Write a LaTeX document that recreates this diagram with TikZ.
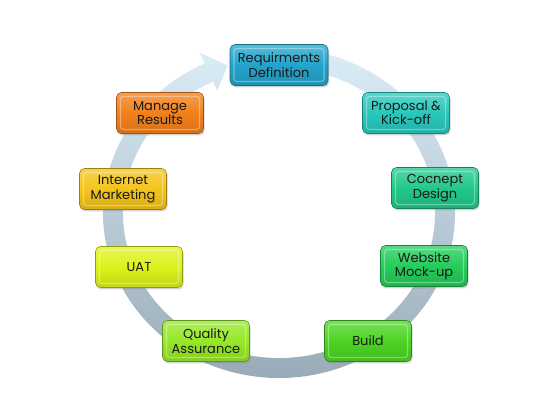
\documentclass[tikz,border=0pt]{standalone}
\usepackage{fontspec}
\newfontfamily\stagefont{Poppins}
\usepackage{tikz}
\usetikzlibrary{shadows, calc}
\definecolor{reqblue}{RGB}{34, 164, 204}
\definecolor{propteal}{RGB}{40, 200, 188}
\definecolor{conceptgreen}{RGB}{34, 200, 138}
\definecolor{webgreen}{RGB}{36, 204, 90}
\definecolor{buildgreen}{RGB}{76, 212, 36}
\definecolor{qalime}{RGB}{150, 232, 40}
\definecolor{uatyellow}{RGB}{222, 242, 26}
\definecolor{netgold}{RGB}{244, 196, 26}
\definecolor{manageorange}{RGB}{242, 128, 26}
\definecolor{ringtop}{RGB}{218, 236, 246}
\definecolor{ringbot}{RGB}{150, 168, 180}
\tikzset{
  stage/.style={rectangle, rounded corners=5pt, draw=#1!65!black, line width=0.6pt,
    top color=#1!75!white, bottom color=#1!88!black, middle color=#1,
    minimum width=87pt, minimum height=41pt, inner sep=2pt, align=center,
    font=\stagefont\fontsize{13}{14.5}\selectfont, text=black!90,
    drop shadow={opacity=0.35, shadow xshift=1pt, shadow yshift=-2pt},
    path picture={\draw[white, opacity=0.35, line width=1.2pt, rounded corners=3pt]
      ([shift={(4pt,-4pt)}]path picture bounding box.north west) rectangle
      ([shift={(-4pt,4pt)}]path picture bounding box.south east);}}
}

\begin{document}
\begin{tikzpicture}[x=1pt, y=1pt]
    \useasboundingbox (0,0) rectangle (560,420);
    \coordinate (ringc) at (279,207);
    \path[top color=ringtop, bottom color=ringbot]
      ([shift={(78:176pt and 165pt)}]ringc) arc[start angle=78, end angle=-245, x radius=176pt, y radius=165pt]
      -- ([shift={(115:188pt and 177pt)}]ringc)
      -- ([shift={(108:166pt and 155pt)}]ringc)
      -- ([shift={(115:146pt and 135pt)}]ringc)
      -- ([shift={(115:156pt and 145pt)}]ringc)
      arc[start angle=115, end angle=438, x radius=156pt, y radius=145pt] -- cycle;
    \node[stage=reqblue, minimum width=98pt] (req) at (279,355) {Requirments\\Definition};
    \node[stage=propteal] (prop) at (406,307) {Proposal \&\\Kick-off};
    \node[stage=conceptgreen] (concept) at (435,232) {Cocnept\\Design};
    \node[stage=webgreen] (web) at (424,154) {Website\\Mock-up};
    \node[stage=buildgreen] (build) at (368,79) {Build};
    \node[stage=qalime] (qa) at (206,79) {Quality\\Assurance};
    \node[stage=uatyellow] (uat) at (139,153) {UAT};
    \node[stage=netgold] (inet) at (123,231) {Internet\\Marketing};
    \node[stage=manageorange] (manage) at (160,307) {Manage\\Results};
  \end{tikzpicture}
\end{document}
